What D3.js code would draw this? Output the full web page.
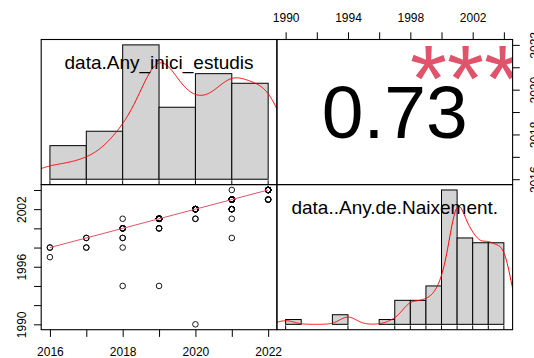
<!DOCTYPE html>
<html>
<head>
<meta charset="utf-8">
<script src="https://cdn.jsdelivr.net/npm/d3@7"></script>
<style>
  html, body { margin: 0; padding: 0; background: #fff; }
  svg { display: block; font-family: "Liberation Sans", Arial, Helvetica, sans-serif; }
</style>
</head>
<body>
<svg id="chart" width="534" height="358"></svg>
<script>
// Variable names printed on the diagonal
const varNames = ["data.Any_inici_estudis", "data..Any.de.Naixement."];

// Observed (start year, birth year) pairs and how many records share each pair
const startYear = [2016, 2016, 2017, 2017, 2018, 2018, 2018, 2018, 2018, 2019, 2019, 2019,
                   2020, 2020, 2020, 2021, 2021, 2021, 2021, 2021, 2022, 2022];
const birthYear = [1998, 1997, 1999, 1998, 2001, 2000, 1999, 1998, 1994, 2001, 2000, 1994,
                   2002, 2001, 1990, 2004, 2003, 2002, 2001, 1999, 2004, 2003];
const pairCount = [2, 1, 2, 2, 1, 5, 2, 1, 1, 24, 3, 1,
                   12, 2, 1, 1, 13, 6, 1, 1, 16, 4];

// Histogram break points
const startBreaks = [2016, 2017, 2018, 2019, 2020, 2021, 2022];
const birthBreaks = [1990, 1991, 1992, 1993, 1994, 1995, 1996, 1997, 1998, 1999, 2000, 2001, 2002, 2003, 2004];

// Smoothed trend through the scatter (fitted birth year at each start year)
const smoothX = [2016, 2017, 2018, 2019, 2020, 2021, 2022];
const smoothY = [1998, 1999, 2000, 2001, 2002, 2003, 2004];

// Correlation coefficient and its significance code
const corrValue = 0.73;
const corrStars = "***";

// Axis ticks and the tick labels that are printed
const startTicks = [2016, 2017, 2018, 2019, 2020, 2021, 2022];
const startTickLabels = [2016, 2018, 2020, 2022];
const birthTicks = [1990, 1992, 1994, 1996, 1998, 2000, 2002, 2004];
const birthLeftLabels = [1990, 1996, 2002];
const birthTopLabels = [1990, 1994, 1998, 2002];

// ---- layout ----
const L = 41.2, M = 276.9, R = 512.6;   // column edges
const T = 39.5, MY = 184.6, B = 329.7;  // row edges
const FS = 12;
const tick = 7.2;

const svg = d3.select("#chart");

// expand a [min,max] range by 4% on each side
function pad(ext) { const d = ext[1] - ext[0]; return [ext[0] - 0.04 * d, ext[1] + 0.04 * d]; }

// full sample built from the pair counts
const xs = [], ys = [];
startYear.forEach((v, i) => { for (let k = 0; k < pairCount[i]; k++) { xs.push(v); ys.push(birthYear[i]); } });

const startDom = pad(d3.extent(xs));
const birthDom = pad(d3.extent(ys));

const xStart = d3.scaleLinear().domain(startDom).range([L, M]);
const yStart = d3.scaleLinear().domain(startDom).range([MY, T]);
const xBirth = d3.scaleLinear().domain(birthDom).range([M, R]);
const yBirth = d3.scaleLinear().domain(birthDom).range([B, MY]);

// clip regions for each panel
const defs = svg.append("defs");
function clip(id, x0, y0, x1, y1) {
  defs.append("clipPath").attr("id", id).append("rect")
    .attr("x", x0).attr("y", y0).attr("width", x1 - x0).attr("height", y1 - y0);
  return `url(#${id})`;
}
const clipTL = clip("cTL", L, T, M, MY);
const clipTR = clip("cTR", M, T, R, MY);
const clipBL = clip("cBL", L, MY, M, B);
const clipBR = clip("cBR", M, MY, R, B);

// ---- statistics helpers ----
function histCounts(values, breaks) {
  const c = new Array(breaks.length - 1).fill(0);
  values.forEach(v => {
    for (let i = 0; i < breaks.length - 1; i++) {
      if ((v > breaks[i] || (i === 0 && v === breaks[0])) && v <= breaks[i + 1]) { c[i]++; break; }
    }
  });
  return c;
}
function bwNrd0(values) {
  const s = values.slice().sort(d3.ascending);
  const hi = d3.deviation(s);
  const iqr = d3.quantileSorted(s, 0.75) - d3.quantileSorted(s, 0.25);
  let lo = Math.min(hi, iqr / 1.34);
  if (!lo) lo = hi || Math.abs(s[0]) || 1;
  return 0.9 * lo * Math.pow(s.length, -0.2);
}
function kde(values, n = 512) {
  const bw = bwNrd0(values);
  const [mn, mx] = d3.extent(values);
  const a = mn - 3 * bw, b = mx + 3 * bw;
  const out = [];
  const norm = 1 / (values.length * bw * Math.sqrt(2 * Math.PI));
  for (let i = 0; i < n; i++) {
    const g = a + (b - a) * i / (n - 1);
    let s = 0;
    for (const v of values) { const z = (g - v) / bw; s += Math.exp(-0.5 * z * z); }
    out.push([g, s * norm]);
  }
  return out;
}

// ---- diagonal panel: histogram + density + rug + name ----
function diagPanel(values, breaks, xScale, y0, y1, clipUrl, name) {
  const counts = histCounts(values, breaks);
  const n = values.length;
  const dens = counts.map((c, i) => c / (n * (breaks[i + 1] - breaks[i])));
  const maxD = d3.max(dens);
  const yS = d3.scaleLinear().domain([-0.04 * maxD, 1.04 * maxD]).range([y1, y0]);
  const g = svg.append("g").attr("clip-path", clipUrl);
  g.selectAll("rect.bar").data(dens).join("rect")
    .attr("class", "bar")
    .attr("x", (d, i) => xScale(breaks[i]))
    .attr("width", (d, i) => xScale(breaks[i + 1]) - xScale(breaks[i]))
    .attr("y", d => yS(d))
    .attr("height", d => yS(0) - yS(d))
    .attr("fill", "#D3D3D3").attr("stroke", "#000").attr("stroke-width", 1);
  g.append("path").datum(kde(values))
    .attr("d", d3.line().x(d => xScale(d[0])).y(d => yS(d[1])))
    .attr("fill", "none").attr("stroke", "#FF0000").attr("stroke-width", 1);
  const rugLen = 0.03 * (y1 - y0);
  g.selectAll("line.rug").data(Array.from(new Set(values))).join("line")
    .attr("class", "rug")
    .attr("x1", d => xScale(d)).attr("x2", d => xScale(d))
    .attr("y1", y1).attr("y2", y1 - rugLen)
    .attr("stroke", "#000").attr("stroke-width", 1);
  const cy = y1 - (y1 - y0) * (0.5 + 1 / 3);
  svg.append("text")
    .attr("x", (xScale.range()[0] + xScale.range()[1]) / 2)
    .attr("y", cy + 4.9)
    .attr("text-anchor", "middle")
    .attr("font-size", 19)
    .attr("fill", "#000")
    .text(name);
}

diagPanel(xs, startBreaks, xStart, T, MY, clipTL, varNames[0]);
diagPanel(ys, birthBreaks, xBirth, MY, B, clipBR, varNames[1]);

// ---- lower panel: scatter + smooth ----
const gS = svg.append("g").attr("clip-path", clipBL);
const pts = [];
startYear.forEach((v, i) => { for (let k = 0; k < pairCount[i]; k++) pts.push([v, birthYear[i]]); });
gS.selectAll("circle").data(pts).join("circle")
  .attr("cx", d => xStart(d[0])).attr("cy", d => yBirth(d[1]))
  .attr("r", 2.8).attr("fill", "none").attr("stroke", "#000").attr("stroke-width", 0.9);
gS.append("path").datum(smoothX.map((x, i) => [x, smoothY[i]]))
  .attr("d", d3.line().x(d => xStart(d[0])).y(d => yBirth(d[1])))
  .attr("fill", "none").attr("stroke", "#DF536B").attr("stroke-width", 1);

// ---- upper panel: correlation ----
const gC = svg.append("g").attr("clip-path", clipTR);
const cx = (M + R) / 2, cyC = (T + MY) / 2;
const corrFs = 75;
gC.append("text")
  .attr("x", cx).attr("y", cyC + 0.34 * corrFs)
  .attr("text-anchor", "middle").attr("font-size", corrFs).attr("fill", "#000")
  .text(d3.format(".2f")(corrValue));
const starFs = 95;
gC.append("text")
  .attr("x", M + 0.8 * (R - M)).attr("y", MY - 0.8 * (MY - T) + 0.45 * starFs)
  .attr("text-anchor", "middle").attr("font-size", starFs).attr("fill", "#DF536B")
  .text(corrStars);

// ---- panel boxes ----
[[L, T, M, MY], [M, T, R, MY], [L, MY, M, B], [M, MY, R, B]].forEach(([x0, y0, x1, y1]) => {
  svg.append("rect").attr("x", x0).attr("y", y0).attr("width", x1 - x0).attr("height", y1 - y0)
    .attr("fill", "none").attr("stroke", "#000").attr("stroke-width", 1.1);
});

// ---- axes ----
function styleAxis(g) {
  g.select(".domain").remove();
  g.selectAll("line").attr("stroke", "#000").attr("stroke-width", 1);
  g.selectAll("text").attr("font-size", FS).attr("fill", "#000")
    .attr("font-family", "Liberation Sans, Arial, Helvetica, sans-serif");
  g.attr("font-family", null).attr("font-size", null);
}
const fmt = labels => d => labels.includes(d) ? String(d) : "";

// bottom axis under the scatter
const axB = svg.append("g").attr("transform", `translate(0,${B})`)
  .call(d3.axisBottom(xStart).tickValues(startTicks).tickFormat(fmt(startTickLabels)).tickSize(tick).tickSizeOuter(0));
styleAxis(axB);
axB.selectAll("text").attr("y", 26).attr("dy", null);

// top axis over the correlation panel
const axT = svg.append("g").attr("transform", `translate(0,${T})`)
  .call(d3.axisTop(xBirth).tickValues(birthTicks).tickFormat(fmt(birthTopLabels)).tickSize(tick).tickSizeOuter(0));
styleAxis(axT);
axT.selectAll("text").attr("y", -17.8).attr("dy", null);

// left axis beside the scatter
const axL = svg.append("g").attr("transform", `translate(${L},0)`)
  .call(d3.axisLeft(yBirth).tickValues(birthTicks).tickFormat(fmt(birthLeftLabels)).tickSize(tick).tickSizeOuter(0));
styleAxis(axL);
axL.selectAll("text").attr("x", 0).attr("y", -15.7).attr("dy", null)
  .attr("text-anchor", "middle").attr("transform", "rotate(-90)");

// right axis beside the correlation panel
const axR = svg.append("g").attr("transform", `translate(${R},0)`)
  .call(d3.axisRight(yStart).tickValues(startTicks).tickFormat(fmt(startTickLabels)).tickSize(tick).tickSizeOuter(0));
styleAxis(axR);
axR.selectAll("text").attr("x", 0).attr("y", 26).attr("dy", null)
  .attr("text-anchor", "middle").attr("transform", "rotate(-90)");
</script>
</body>
</html>
